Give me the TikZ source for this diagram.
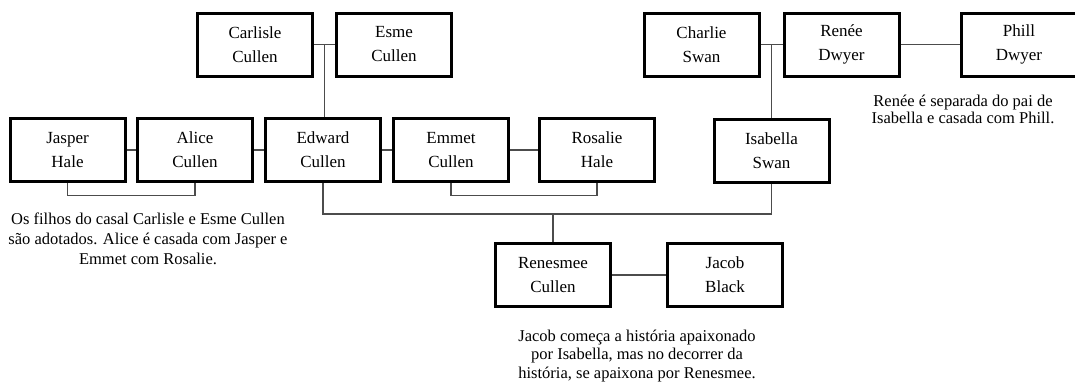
\documentclass[tikz,border=0pt]{standalone}
\usepackage{fontspec}
\setmainfont{Liberation Serif}
\usetikzlibrary{calc}

\begin{document}
\begin{tikzpicture}[x=1pt,y=1pt,
    pessoa/.style={draw,line width=3pt,minimum width=115pt,minimum height=63pt,
      inner sep=0pt,align=center,font=\fontsize{17}{24}\selectfont},
    nota/.style={inner sep=0pt,align=center},
    lig/.style={draw=black!70,line width=1.2pt}]
      \useasboundingbox (0,0) rectangle (1075,-381);

      \node[pessoa] (carlisle) at (255,-44.5) {Carlisle\\Cullen};
      \node[pessoa] (esme) at (394,-44.5) {Esme\\Cullen};
      \node[pessoa] (charlie) at (701.5,-44.5) {Charlie\\Swan};
      \node[pessoa] (renee) at (841.5,-44.5) {Renée\\Dwyer};
      \node[pessoa] (phill) at (1019,-44.5) {Phill\\Dwyer};

      \node[pessoa] (jasper) at (67.5,-150) {Jasper\\Hale};
      \node[pessoa] (alice) at (195,-150) {Alice\\Cullen};
      \node[pessoa] (edward) at (323,-150) {Edward\\Cullen};
      \node[pessoa] (emmet) at (451,-150) {Emmet\\Cullen};
      \node[pessoa] (rosalie) at (597,-150) {Rosalie\\Hale};
      \node[pessoa] (isabella) at (771.5,-150.5) {Isabella\\Swan};

      \node[pessoa] (renesmee) at (553,-275) {Renesmee\\Cullen};
      \node[pessoa] (jacob) at (725,-275) {Jacob\\Black};

      \node[nota,font=\fontsize{16.5}{16.5}\selectfont] (notarenee) at (963,-109.5)
        {Renée é separada do pai de\\Isabella e casada com Phill.};
      \node[nota,font=\fontsize{16.5}{20}\selectfont] (notacullen) at (148,-239)
        {Os filhos do casal Carlisle e Esme Cullen\\são adotados. Alice é casada com Jasper e\\Emmet com Rosalie.};
      \node[nota,font=\fontsize{16.5}{18.5}\selectfont] (notajacob) at (637,-356)
        {Jacob começa a história apaixonado\\por Isabella, mas no decorrer da\\história, se apaixona por Renesmee.};

      \path[lig] (carlisle) edge (esme);
      \path[lig] (charlie) edge (renee);
      \path[lig] (renee) edge (phill);
      \path[lig] (jasper) edge (alice);
      \path[lig] (alice) edge (edward);
      \path[lig] (edward) edge (emmet);
      \path[lig] (emmet) edge (rosalie);
      \path[lig] (renesmee) edge (jacob);

      \coordinate (pais) at ($(carlisle.east)!.5!(esme.west)$);
      \coordinate (swan) at ($(charlie.east)!.5!(renee.west)$);
      \draw[lig] (pais) -- (pais |- edward.north);
      \draw[lig] (swan) -- (swan |- isabella.north);

      \draw[lig] (jasper.south) -- ++(0,-12.5) -| (alice.south);
      \draw[lig] (emmet.south) -- ++(0,-12.5) -| (rosalie.south);
      \draw[lig] (edward.south) -- ++(0,-31) coordinate (casal) -| (isabella.south);
      \draw[lig] (renesmee.north) -- (renesmee.north |- casal);
    \end{tikzpicture}
\end{document}
